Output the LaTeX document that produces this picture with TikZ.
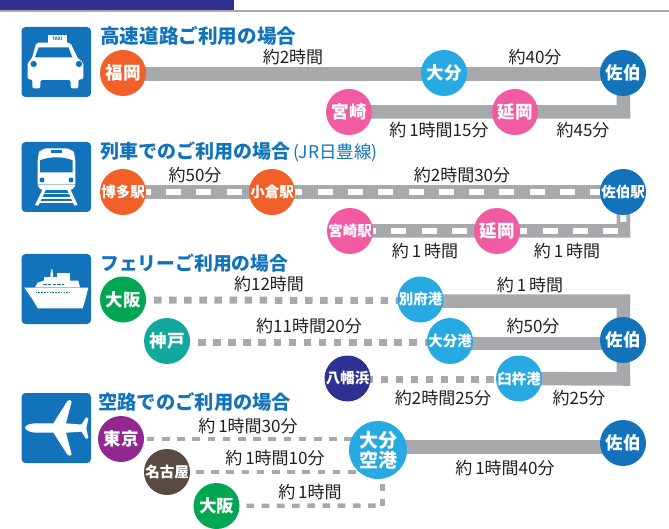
\documentclass[tikz,border=0pt]{standalone}
\usepackage{fontspec}
\setmainfont{Noto Sans CJK JP}
\usetikzlibrary{backgrounds}
\definecolor{bluetitle}{HTML}{1273BB}
\definecolor{navyc}{HTML}{2E3192}
\definecolor{grayc}{HTML}{A7A9AC}
\definecolor{orangec}{HTML}{F26029}
\definecolor{skyc}{HTML}{27AAE1}
\definecolor{pinkc}{HTML}{F05BA1}
\definecolor{greenc}{HTML}{00A651}
\definecolor{tealc}{HTML}{12A89D}
\definecolor{purplec}{HTML}{92278F}
\definecolor{brownc}{HTML}{594A42}
\definecolor{inkc}{HTML}{231F20}
\tikzset{
  stop/.style={circle,inner sep=0pt,minimum size=46pt,text=white,align=center,font=\bfseries\fontsize{17.5}{20}\selectfont},
  small/.style={font=\bfseries\fontsize{14.5}{16}\selectfont},
  road/.style={draw=grayc,line width=13.5pt},
  rail/.style={draw=white,line width=6pt,dash pattern=on 15pt off 15.3pt},
  sea/.style={draw=grayc,line width=7pt,dash pattern=on 7.5pt off 7.6pt},
  air/.style={draw=grayc,line width=4.5pt,dash pattern=on 7.6pt off 7.6pt},
  airv/.style={draw=grayc,line width=5pt,dash pattern=on 7pt off 8pt},
  timelabel/.style={text=inkc,inner sep=0pt,font=\fontsize{17}{20}\selectfont},
  headline/.style={anchor=west,text=bluetitle,inner sep=0pt,font=\bfseries\fontsize{19}{22}\selectfont},
  iconbox/.style={fill=bluetitle,rounded corners=4pt},
}
\begin{document}
\begin{tikzpicture}[x=1pt,y=-1pt]
\useasboundingbox (0,0) rectangle (669,529);
% header
\fill[navyc] (0,0) rectangle (234,10);
\fill[grayc] (0,10) rectangle (669,12);
% icon boxes
\fill[iconbox] (21.5,27) rectangle (91,97);
\fill[iconbox] (21.5,142) rectangle (91,212);
\fill[iconbox] (21.5,254) rectangle (91,324);
\fill[iconbox] (21.5,393) rectangle (91,463);
% taxi
\begin{scope}[shift={(15,20)},scale=1/3]
\fill[white] (100,46) rectangle (155,68);
\fill[white,rounded corners=2pt] (64,68) -- (166,68) -- (190,118) -- (205,126) -- (205,178) -- (190,178) -- (190,205) -- (167,205) -- (167,180) -- (76,180) -- (76,205) -- (52,205) -- (52,178) -- (38,178) -- (38,126) -- (50,118) -- cycle;
\fill[bluetitle] (71,82) -- (160,82) -- (172,112) -- (60,112) -- cycle;
\fill[bluetitle] (56,132) circle (9.5);
\fill[bluetitle] (192,132) circle (9.5);
\node[text=bluetitle,inner sep=0pt,font=\bfseries\fontsize{4.5}{5}\selectfont] (taxisign) at (127,57) {TAXI};
\end{scope}
% train
\begin{scope}[shift={(15,135)},scale=1/3]
\fill[white,rounded corners=6pt] (78,40) -- (170,40) -- (181,60) -- (181,165) -- (68,165) -- (68,60) -- cycle;
\fill[bluetitle] (108,45) rectangle (140,54);
\fill[bluetitle] (75,76) .. controls (105,64) and (145,64) .. (173,76) -- (173,112) -- (75,112) -- cycle;
\fill[bluetitle] (81,135) circle (7.5);
\fill[bluetitle] (168,135) circle (7.5);
\draw[bluetitle!40,line width=0.7pt] (68,148) -- (181,148);
\fill[white] (82,165) -- (92,165) -- (70,212) -- (60,210) -- cycle;
\fill[white] (157,165) -- (167,165) -- (188,210) -- (178,212) -- cycle;
\fill[white] (84,173) rectangle (165,178);
\fill[white] (78,187) rectangle (171,191);
\fill[white] (72,199) rectangle (177,203);
\end{scope}
% ship
\begin{scope}[shift={(15,250)},scale=1/3]
\fill[white] (28,113) -- (220,113) .. controls (215,135) and (208,160) .. (203,175) -- (68,175) .. controls (55,150) and (40,130) .. (28,113) -- cycle;
\fill[white] (60,112) -- (68,98) -- (85,92) -- (190,92) -- (195,112) -- cycle;
\fill[white] (127,68) rectangle (165,92);
\fill[white] (105,90) -- (108,58) -- (112,58) -- (116,90) -- cycle;
\fill[white] (88,82) rectangle (132,92);
\draw[bluetitle,line width=1.6pt,dash pattern=on 3.5pt off 1.3pt] (84,104) -- (146,104);
\draw[bluetitle,line width=1.5pt,dash pattern=on 1.5pt off 1.3pt] (62,127) -- (166,127);
\end{scope}
% plane
\begin{scope}[shift={(0,385)},scale=1/3]
\fill[white] (75,128) .. controls (78,118) and (95,115) .. (110,115) -- (160,115) -- (203,47) .. controls (208,44) and (214,45) .. (215,50) -- (198,115) -- (235,118) -- (245,118) -- (258,97) -- (265,100) -- (259,130) -- (265,158) -- (258,162) -- (245,140) -- (235,141) -- (198,143) -- (215,208) .. controls (214,212) and (208,214) .. (203,210) -- (160,143) -- (110,143) .. controls (95,143) and (78,138) .. (75,128) -- cycle;
\end{scope}
% titles
\node[headline,font=\bfseries\fontsize{19.6}{22}\selectfont] (title1) at (100,36) {高速道路ご利用の場合};
\node[headline] (title2) at (100,152) {列車でのご利用の場合\,{\mdseries\fontsize{17.5}{20}\selectfont (JR日豊線)}};
\node[headline,font=\bfseries\fontsize{18.8}{22}\selectfont] (title3) at (100,263) {フェリーご利用の場合};
\node[headline,font=\bfseries\fontsize{19.3}{22}\selectfont] (title4) at (98,402) {空路でのご利用の場合};
% section 1
\node[stop,fill=orangec] (fukuoka) at (123,73) {福岡};
\node[stop,fill=skyc] (oita) at (444,73) {大分};
\node[stop,fill=bluetitle] (saiki) at (623,73) {佐伯};
\node[stop,fill=pinkc] (miyazaki) at (349,112) {宮崎};
\node[stop,fill=pinkc] (nobeoka) at (515,112) {延岡};
\coordinate (corner1) at (623.5,112);
% section 2
\node[stop,small,fill=orangec] (hakata) at (123,192) {博多駅};
\node[stop,small,fill=orangec] (kokura) at (272,192) {小倉駅};
\node[stop,small,fill=bluetitle] (saikist) at (623,192) {佐伯駅};
\node[stop,small,fill=pinkc] (miyazakist) at (350,231) {宮崎駅};
\node[stop,fill=pinkc] (nobeokast) at (497,231) {延岡};
\coordinate (corner2) at (623.5,231);
% section 3
\node[stop,fill=greenc] (osaka) at (123,299.5) {大阪};
\node[stop,fill=tealc] (kobe) at (167,341) {神戸};
\node[stop,small,fill=skyc] (beppu) at (420.5,299.5) {別府港};
\node[stop,small,fill=skyc] (oitako) at (450,341) {大分港};
\node[stop,small,fill=navyc] (yawatahama) at (347.5,378.5) {八幡浜};
\node[stop,small,fill=skyc] (usuki) at (519,378.5) {臼杵港};
\node[stop,fill=bluetitle] (saikiport) at (623,340) {佐伯};
\coordinate (corner3a) at (623.5,301);
\coordinate (corner3b) at (623.5,379);
% section 4
\node[stop,fill=purplec] (tokyo) at (121,439) {東京};
\node[stop,small,fill=brownc] (nagoya) at (167,472) {名古屋};
\node[stop,fill=greenc] (osakaair) at (216.5,506) {大阪};
\node[stop,minimum size=58pt,fill=skyc,font=\bfseries\fontsize{19}{20}\selectfont] (kuko) at (378,450) {大分\\空港};
\node[stop,fill=bluetitle] (saikiair) at (623,443) {佐伯};
\coordinate (corner4) at (382,505.5);
% connectors
\begin{pgfonlayer}{background}
\draw[road] ([yshift=-1pt]fukuoka.center) -- ([yshift=-1pt]saiki.center);
\draw[road,line cap=butt] (miyazaki.center) -- (corner1) -- (saiki.center);
\draw[road] (hakata.center) -- (saikist.center);
\draw[rail,dash phase=17.6pt] (hakata.center) -- (kokura.center);
\draw[rail,dash phase=15pt] (kokura.center) -- (saikist.center);
\draw[road] (miyazakist.center) -- (corner2) -- (saikist.center);
\draw[rail,dash phase=19.3pt] (miyazakist.center) -- (nobeokast.center);
\draw[rail,dash phase=15pt] (nobeokast.center) -- ([xshift=-5pt]corner2);
\draw[rail,dash phase=21.3pt] (corner2) -- (saikist.center);
\draw[road] ([yshift=-1.5pt]beppu.center) -- (corner3a) -- (saikiport.center);
\draw[road] ([yshift=-2.5pt]oitako.center) -- ([yshift=-3.5pt]saikiport.center);
\draw[road] (usuki.center) -- (corner3b) -- (saikiport.center);
\draw[road] ([yshift=3pt]kuko.center) -- ([yshift=-4pt]saikiair.center);
\draw[sea,dash phase=14.3pt] ([yshift=-0.5pt]osaka.center) -- ([yshift=-1pt]beppu.center);
\draw[sea,dash phase=14.3pt] ([yshift=-1pt]kobe.center) -- ([yshift=-1pt]oitako.center);
\draw[sea,dash phase=12.3pt] ([yshift=-0.5pt]yawatahama.center) -- ([yshift=-0.5pt]usuki.center);
\draw[air,dash phase=4.7pt] (tokyo.center) -- (tokyo.center -| kuko.center);
\draw[air,dash phase=1.4pt] (nagoya.center) -- (nagoya.center -| kuko.center);
\draw[air,dash phase=0.4pt] (osakaair.center) -- (corner4);
\draw[airv] (corner4) -- (corner4 |- kuko.center);
\end{pgfonlayer}
% times
\node[timelabel] (t1a) at (293,57) {約2時間};
\node[timelabel] (t1b) at (535,57) {約40分};
\node[timelabel] (t1c) at (439,130) {約\,1時間15分};
\node[timelabel] (t1d) at (583,130) {約45分};
\node[timelabel] (t2a) at (195,175) {約50分};
\node[timelabel] (t2b) at (462,175) {約2時間30分};
\node[timelabel] (t2c) at (425,251) {約\,1\,時間};
\node[timelabel] (t2d) at (567,251) {約\,1\,時間};
\node[timelabel] (t3a) at (269,284.5) {約12時間};
\node[timelabel] (t3b) at (309,326) {約11時間20分};
\node[timelabel] (t3c) at (530,285) {約\,1\,時間};
\node[timelabel] (t3d) at (533,326) {約50分};
\node[timelabel] (t3e) at (443,398) {約2時間25分};
\node[timelabel] (t3f) at (579,398) {約25分};
\node[timelabel] (t4a) at (248,426) {約\,1時間30分};
\node[timelabel] (t4b) at (275,458) {約\,1時間10分};
\node[timelabel] (t4c) at (310,492) {約\,1時間};
\node[timelabel] (t4d) at (505,468) {約\,1時間40分};
\end{tikzpicture}
\end{document}
